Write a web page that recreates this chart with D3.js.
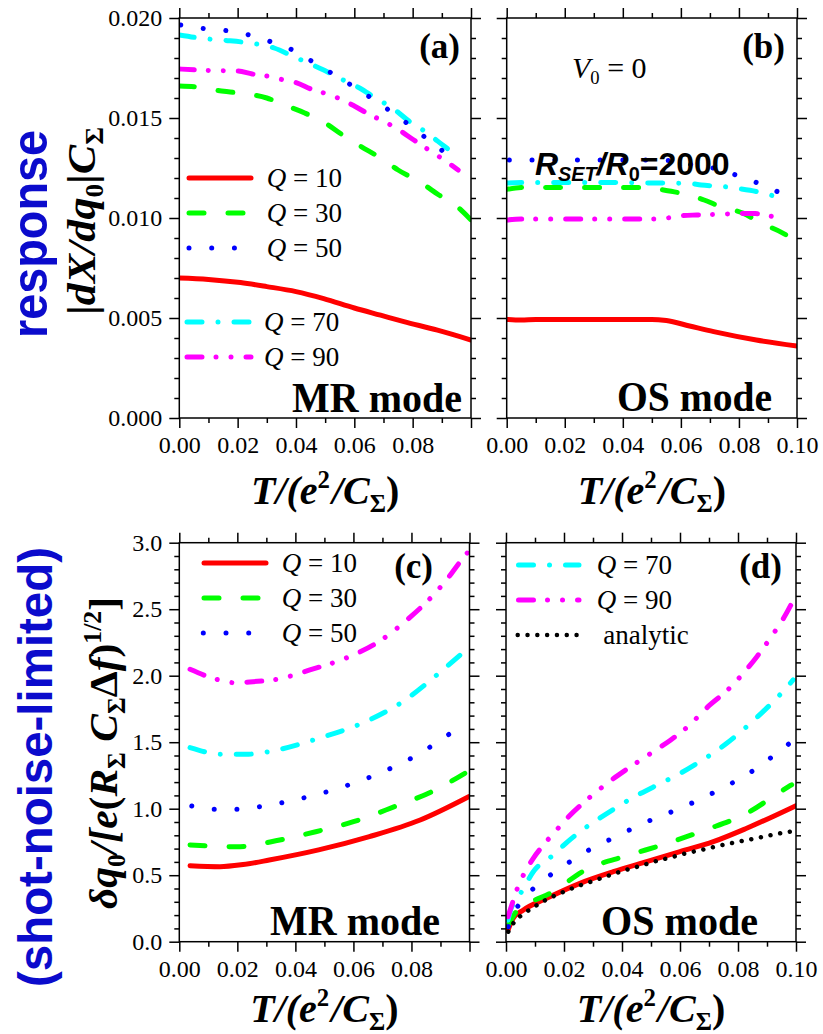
<!DOCTYPE html>
<html>
<head>
<meta charset="utf-8">
<script src="https://cdn.jsdelivr.net/npm/d3@7"></script>
<style>
  body { margin: 0; background: #fff; }
  svg { display: block; }
</style>
</head>
<body>
<svg id="fig" width="823" height="1034"></svg>
<script>
// ---------- data: [T/(e^2/C_Sigma), value] ----------
// (a) MR mode response |dX/dq0| C_Sigma
const aQ10 = [[0,0.0070],[0.010,0.00693],[0.021,0.00677],[0.030,0.00657],[0.040,0.00632],[0.0495,0.00597],[0.060,0.0055],[0.069,0.00514],[0.077,0.00482],[0.0885,0.00439],[0.100,0.0039]];
const aQ30 = [[0,0.0166],[0.006,0.01655],[0.012,0.0164],[0.020,0.01625],[0.030,0.0160],[0.036,0.01565],[0.043,0.01525],[0.050,0.01475],[0.056,0.01415],[0.062,0.0136],[0.069,0.0130],[0.075,0.0124],[0.083,0.01175],[0.089,0.01115],[0.095,0.0106],[0.100,0.0099]];
const aQ50 = [[0.0005,0.01965],[0.008,0.01948],[0.016,0.01937],[0.024,0.01915],[0.032,0.01878],[0.040,0.01832],[0.047,0.0177],[0.055,0.0170],[0.063,0.01627],[0.071,0.01548],[0.0786,0.01468],[0.0865,0.01378],[0.0943,0.0129]];
const aQ70 = [[0,0.01915],[0.008,0.01898],[0.016,0.01888],[0.023,0.01877],[0.0325,0.0185],[0.0395,0.01805],[0.0495,0.0174],[0.0575,0.0168],[0.0618,0.0165],[0.0667,0.01605],[0.074,0.0154],[0.0785,0.01487],[0.0835,0.0144],[0.091,0.01357],[0.0955,0.01307]];
const aQ90 = [[0,0.01745],[0.010,0.01738],[0.020,0.01735],[0.025,0.0172],[0.030,0.0171],[0.035,0.01693],[0.040,0.01677],[0.0455,0.01643],[0.050,0.01623],[0.0555,0.01593],[0.060,0.0156],[0.0655,0.01515],[0.0703,0.01482],[0.0756,0.01437],[0.0804,0.0139],[0.0856,0.0134],[0.0905,0.01293],[0.0956,0.0124]];

// (b) OS mode response
const bQ10 = [[0,0.00493],[0.005,0.0049],[0.010,0.00493],[0.030,0.00493],[0.050,0.00493],[0.055,0.00487],[0.063,0.0046],[0.0713,0.00432],[0.086,0.0039],[0.100,0.0036]];
const bQ30 = [[0,0.01143],[0.005,0.01152],[0.020,0.01153],[0.035,0.01153],[0.047,0.01153],[0.054,0.0114],[0.0603,0.01123],[0.068,0.0109],[0.0736,0.01057],[0.0816,0.01023],[0.0873,0.00977],[0.0948,0.00927],[0.100,0.00882]];
const bQ50 = [[0.0009,0.0129],[0.010,0.0129],[0.030,0.0129],[0.050,0.0129],[0.0552,0.01288],[0.063,0.01268],[0.071,0.0125],[0.079,0.01215],[0.0868,0.01173],[0.0946,0.01123]];
const bQ70 = [[0,0.01175],[0.010,0.01178],[0.030,0.01178],[0.050,0.01175],[0.0625,0.01173],[0.067,0.01165],[0.0747,0.01157],[0.0793,0.01148],[0.0862,0.01132],[0.0963,0.0109]];
const bQ90 = [[0,0.0099],[0.005,0.00995],[0.020,0.00995],[0.040,0.00995],[0.050,0.00995],[0.0554,0.0100],[0.0603,0.01012],[0.0655,0.01015],[0.0701,0.01017],[0.0755,0.0102],[0.0804,0.01023],[0.0856,0.01022],[0.0906,0.0101],[0.0956,0.01002]];

// (c) MR mode shot-noise-limited sensitivity
const cQ10 = [[0.0037,0.571],[0.014,0.564],[0.022,0.58],[0.031,0.614],[0.048,0.69],[0.0655,0.79],[0.083,0.915],[0.0997,1.09]];
const cQ30 = [[0.0037,0.727],[0.0197,0.714],[0.0346,0.765],[0.047,0.827],[0.060,0.902],[0.0735,1.01],[0.087,1.128],[0.0993,1.278]];
const cQ50 = [[0.0043,1.02],[0.012,0.995],[0.0197,0.995],[0.0275,1.015],[0.0354,1.045],[0.0432,1.083],[0.051,1.128],[0.0589,1.183],[0.0667,1.246],[0.0745,1.321],[0.0824,1.409],[0.090,1.516],[0.098,1.637]];
const cQ70 = [[0.0037,1.459],[0.015,1.409],[0.023,1.409],[0.0335,1.441],[0.048,1.529],[0.0655,1.667],[0.077,1.805],[0.088,1.992],[0.0994,2.206]];
const cQ90 = [[0.0037,2.048],[0.0137,1.968],[0.019,1.947],[0.0254,1.955],[0.0337,1.973],[0.045,2.043],[0.0586,2.143],[0.0678,2.243],[0.0787,2.424],[0.087,2.594],[0.0928,2.74],[0.0967,2.855],[0.0995,2.93]];

// (d) OS mode shot-noise-limited sensitivity
const dQ10 = [[0.0007,0.088],[0.0025,0.176],[0.006,0.238],[0.014,0.326],[0.0255,0.439],[0.037,0.526],[0.0485,0.602],[0.060,0.677],[0.0715,0.752],[0.083,0.853],[0.100,1.023]];
const dQ30 = [[0.0007,0.12],[0.003,0.21],[0.008,0.29],[0.0149,0.36],[0.0279,0.545],[0.0414,0.645],[0.0555,0.739],[0.0687,0.84],[0.0825,0.959],[0.0951,1.134],[0.0985,1.18]];
const dQ50 = [[0.0008,0.113],[0.002,0.188],[0.0048,0.289],[0.0123,0.451],[0.020,0.571],[0.028,0.682],[0.036,0.77],[0.0437,0.852],[0.0514,0.928],[0.0592,0.995],[0.0671,1.073],[0.0749,1.158],[0.0828,1.253],[0.0906,1.371],[0.0985,1.504]];
const dQ70 = [[0.0007,0.163],[0.002,0.263],[0.003,0.289],[0.006,0.401],[0.0094,0.526],[0.0163,0.652],[0.021,0.747],[0.0255,0.827],[0.0313,0.915],[0.0376,1.003],[0.0439,1.085],[0.0542,1.20],[0.060,1.265],[0.0658,1.34],[0.076,1.49],[0.083,1.617],[0.088,1.717],[0.0933,1.83],[0.099,1.968]];
const dQ90 = [[0.0007,0.188],[0.002,0.276],[0.0037,0.389],[0.006,0.501],[0.0094,0.627],[0.0129,0.727],[0.0169,0.827],[0.0218,0.945],[0.0278,1.065],[0.0364,1.216],[0.0416,1.296],[0.0508,1.429],[0.0568,1.517],[0.062,1.604],[0.0703,1.78],[0.0764,1.892],[0.0813,2.005],[0.0865,2.143],[0.0925,2.326],[0.0959,2.439],[0.100,2.607]];
const dAnalytic = [[0.0008,0.075],[0.0029,0.15],[0.0063,0.213],[0.0098,0.263],[0.0132,0.308],[0.0166,0.344],[0.020,0.376],[0.0234,0.406],[0.0269,0.434],[0.0303,0.459],[0.037,0.509],[0.0405,0.534],[0.0474,0.577],[0.0506,0.599],[0.0574,0.637],[0.0606,0.657],[0.0672,0.689],[0.0707,0.707],[0.0775,0.74],[0.0809,0.755],[0.0878,0.785],[0.091,0.80],[0.0945,0.815],[0.0979,0.827]];

// ticks
const tMajor = [0, 0.02, 0.04, 0.06, 0.08, 0.10];
const tMinor = [0.01, 0.03, 0.05, 0.07, 0.09];
const respMajor = [0, 0.005, 0.010, 0.015, 0.020];
const respMinor = [1,2,3,4,6,7,8,9,11,12,13,14,16,17,18,19].map(i => i / 1000);
const noiseMajor = [0, 0.5, 1.0, 1.5, 2.0, 2.5, 3.0];
const noiseMinor = d3.range(31).filter(i => i % 5 !== 0).map(i => i / 10);

// ---------- styling ----------
const serif = "'Liberation Serif', 'Times New Roman', Times, serif";
const sans = "'Liberation Sans', Arial, Helvetica, sans-serif";
const LW = 5;
const styles = {
  Q10: { color: "#ff0000", dash: null },
  Q30: { color: "#00ff00", dash: "15,24" },
  Q50: { color: "#0000ff", dash: "0.01,22.7" },
  Q70: { color: "#00ffff", dash: "15,16,0.01,16" },
  Q90: { color: "#ff00ff", dash: "15,14,0.01,15,0.01,15" },
  analytic: { color: "#000000", dash: "0.01,9.8", width: 4.5 }
};

const svg = d3.select("#fig");

// rich text helper: segments with italic / sup / sub
function rich(textSel, segs, size) {
  let shift = 0;
  segs.forEach(s => {
    const target = s.sup ? -0.4 * size : s.sub ? 0.2 * size : 0;
    const ts = textSel.append("tspan")
      .text(s.t)
      .style("font-size", ((s.sup || s.sub) ? size * 0.62 : size) + "px")
      .style("font-style", s.it ? "italic" : "normal");
    if (target - shift !== 0) ts.attr("dy", target - shift);
    if (s.dx) ts.attr("dx", s.dx);
    shift = target;
  });
}

const panels = [
  { id: "a", x0: 179.3, x1: 471, y0: 18, y1: 418, ydom: [0, 0.02], yMajor: respMajor, yMinor: respMinor,
    yFmt: d3.format(".3f"), yLabels: true, xLast: false, titleOff: 86,
    series: [["Q10", aQ10], ["Q30", aQ30], ["Q70", aQ70], ["Q90", aQ90], ["Q50", aQ50]] },
  { id: "b", x0: 506.7, x1: 797, y0: 18, y1: 418, ydom: [0, 0.02], yMajor: respMajor, yMinor: respMinor,
    yFmt: null, yLabels: false, xLast: true, titleOff: 86,
    series: [["Q10", bQ10], ["Q30", bQ30], ["Q70", bQ70], ["Q90", bQ90], ["Q50", bQ50]] },
  { id: "c", x0: 179.3, x1: 469.5, y0: 542.7, y1: 941.7, ydom: [0, 3], yMajor: noiseMajor, yMinor: noiseMinor,
    yFmt: d3.format(".1f"), yLabels: true, xLast: false, titleOff: 80,
    series: [["Q10", cQ10], ["Q30", cQ30], ["Q70", cQ70], ["Q90", cQ90], ["Q50", cQ50]] },
  { id: "d", x0: 506, x1: 796, y0: 542.7, y1: 941.7, ydom: [0, 3], yMajor: noiseMajor, yMinor: noiseMinor,
    yFmt: null, yLabels: false, xLast: true, titleOff: 80,
    series: [["Q10", dQ10], ["Q30", dQ30], ["Q70", dQ70], ["Q90", dQ90], ["Q50", dQ50], ["analytic", dAnalytic]] }
];

function styleAxis(g) {
  g.select(".domain").remove();
  g.selectAll(".tick line").attr("stroke", "#000").attr("stroke-width", 1.5);
  g.selectAll(".tick text").attr("fill", "#000")
    .style("font-family", serif).style("font-size", "24px");
  g.attr("font-family", null).attr("font-size", null);
}

panels.forEach(p => {
  const x = d3.scaleLinear().domain([0, 0.1]).range([p.x0, p.x1]);
  const y = d3.scaleLinear().domain(p.ydom).range([p.y1, p.y0]);
  const g = svg.append("g").attr("class", "panel-" + p.id);

  // clip region for curves
  const clipId = "clip-" + p.id;
  svg.append("clipPath").attr("id", clipId)
    .append("rect").attr("x", p.x0).attr("y", p.y0 - 3)
    .attr("width", p.x1 - p.x0).attr("height", p.y1 - p.y0 + 3);

  const line = d3.line().x(d => x(d[0])).y(d => y(d[1])).curve(d3.curveMonotoneX);
  const curves = g.append("g").attr("clip-path", `url(#${clipId})`);
  p.series.forEach(([key, data]) => {
    const st = styles[key];
    curves.append("path")
      .datum(data)
      .attr("d", line)
      .attr("fill", "none")
      .attr("stroke", st.color)
      .attr("stroke-width", st.width || LW)
      .attr("stroke-linecap", "round")
      .attr("stroke-linejoin", "round")
      .attr("stroke-dasharray", st.dash);
  });

  // bottom axis
  const xFmt = d3.format(".2f");
  g.append("g").attr("transform", `translate(0,${p.y1})`)
    .call(d3.axisBottom(x).tickValues(tMinor).tickSize(5).tickFormat("")).call(styleAxis);
  g.append("g").attr("transform", `translate(0,${p.y1})`)
    .call(d3.axisBottom(x).tickValues(tMajor).tickSize(10).tickPadding(8)
      .tickFormat(d => (d > 0.09 && !p.xLast) ? "" : xFmt(d))).call(styleAxis);
  // top axis
  g.append("g").attr("transform", `translate(0,${p.y0})`)
    .call(d3.axisTop(x).tickValues(tMinor).tickSize(5).tickFormat("")).call(styleAxis);
  g.append("g").attr("transform", `translate(0,${p.y0})`)
    .call(d3.axisTop(x).tickValues(tMajor).tickSize(10).tickFormat("")).call(styleAxis);
  // left axis
  g.append("g").attr("transform", `translate(${p.x0},0)`)
    .call(d3.axisLeft(y).tickValues(p.yMinor).tickSize(5).tickFormat("")).call(styleAxis);
  g.append("g").attr("transform", `translate(${p.x0},0)`)
    .call(d3.axisLeft(y).tickValues(p.yMajor).tickSize(10).tickPadding(7)
      .tickFormat(p.yLabels ? p.yFmt : "")).call(styleAxis);
  // right axis
  g.append("g").attr("transform", `translate(${p.x1},0)`)
    .call(d3.axisRight(y).tickValues(p.yMinor).tickSize(5).tickFormat("")).call(styleAxis);
  g.append("g").attr("transform", `translate(${p.x1},0)`)
    .call(d3.axisRight(y).tickValues(p.yMajor).tickSize(10).tickFormat("")).call(styleAxis);

  // frame
  g.append("rect").attr("x", p.x0).attr("y", p.y0)
    .attr("width", p.x1 - p.x0).attr("height", p.y1 - p.y0)
    .attr("fill", "none").attr("stroke", "#000").attr("stroke-width", 1.5);

  // x-axis title T/(e^2/C_Sigma)
  const tt = g.append("text")
    .attr("x", (p.x0 + p.x1) / 2).attr("y", p.y1 + p.titleOff)
    .attr("text-anchor", "middle").style("font-family", serif).style("font-weight", "bold");
  rich(tt, [{ t: "T", it: true }, { t: "/(", it: true }, { t: "e", it: true }, { t: "2", sup: true },
            { t: "/", it: true, dx: 2 }, { t: "C", it: true }, { t: "Σ", sub: true }, { t: ")" }], 40);
});

// ---------- panel annotations ----------
function label(txt, xPos, yPos, size, len) {
  const t = svg.append("text").attr("x", xPos).attr("y", yPos)
    .attr("text-anchor", "end").style("font-family", serif).style("font-weight", "bold")
    .style("font-size", size + "px").text(txt);
  if (len) t.attr("textLength", len).attr("lengthAdjust", "spacingAndGlyphs");
  return t;
}
label("(a)", 460, 58, 35);
label("(b)", 785, 58, 35);
label("(c)", 433, 578, 35);
label("(d)", 782, 578, 35);
label("MR mode", 462, 412, 42, 170);
label("OS mode", 772, 411, 42, 155);
label("MR mode", 440, 935, 42, 170);
label("OS mode", 758, 935, 42, 157);

// V0 = 0
const v0 = svg.append("text").attr("x", 572).attr("y", 78)
  .style("font-family", serif).attr("fill", "#000");
rich(v0, [{ t: "V", it: true }, { t: "0", sub: true }, { t: " = 0" }], 30);

// R_SET / R_0 = 2000
const rs = svg.append("text").attr("x", 535).attr("y", 175)
  .style("font-family", sans).style("font-weight", "bold").attr("fill", "#000");
rich(rs, [{ t: "R", it: true }, { t: "SET", sub: true, it: true }, { t: "/", it: true }, { t: "R", it: true },
          { t: "0", sub: true }, { t: "=2000" }], 32);

// ---------- legends ----------
function legendRow(key, x1, x2, yRow, textX, segs) {
  const st = styles[key];
  svg.append("line").attr("x1", x1).attr("x2", x2).attr("y1", yRow).attr("y2", yRow)
    .attr("stroke", st.color).attr("stroke-width", st.width || LW)
    .attr("stroke-linecap", "round").attr("stroke-dasharray", st.dash);
  const t = svg.append("text").attr("x", textX).attr("y", yRow + 9)
    .style("font-family", serif).attr("fill", "#000");
  rich(t, segs, 27);
}
const qText = n => [{ t: "Q", it: true }, { t: " = " + n }];
// (a)
legendRow("Q10", 189, 251, 178, 266.7, qText(10));
legendRow("Q30", 189, 251, 213, 266.7, qText(30));
legendRow("Q50", 189, 251, 248, 266.7, qText(50));
legendRow("Q70", 187, 251, 322, 264, qText(70));
legendRow("Q90", 187, 251, 357, 264, qText(90));
// (c)
legendRow("Q10", 204, 266, 563, 281.7, qText(10));
legendRow("Q30", 204, 266, 598, 281.7, qText(30));
legendRow("Q50", 203.3, 266, 633, 281.7, qText(50));
// (d)
legendRow("Q70", 518.5, 579, 565, 596.7, qText(70));
legendRow("Q90", 518.5, 579, 600, 596.7, qText(90));
legendRow("analytic", 517.7, 577, 635, 603.3, [{ t: "analytic" }]);

// ---------- y-axis titles ----------
const yt1 = svg.append("text")
  .attr("transform", "translate(95,221) rotate(-90)")
  .attr("text-anchor", "middle").style("font-family", serif).style("font-weight", "bold")
  .attr("textLength", 188).attr("lengthAdjust", "spacingAndGlyphs");
rich(yt1, [{ t: "|", it: false }, { t: "dX", it: true }, { t: "/", it: true }, { t: "dq", it: true },
           { t: "0", sub: true }, { t: "|", it: false }, { t: "C", it: true }, { t: "Σ", sub: true }], 40);

const yt2 = svg.append("text")
  .attr("transform", "translate(117,753) rotate(-90)")
  .attr("text-anchor", "middle").style("font-family", serif).style("font-weight", "bold")
  .attr("textLength", 312).attr("lengthAdjust", "spacingAndGlyphs");
rich(yt2, [{ t: "δq", it: true }, { t: "0", sub: true }, { t: "/[", it: true }, { t: "e", it: true },
           { t: "(" }, { t: "R", it: true }, { t: "Σ", sub: true }, { t: " C", it: true }, { t: "Σ", sub: true },
           { t: "Δ" }, { t: "f", it: true }, { t: ")" }, { t: "1/2", sup: true }, { t: "]" }], 40);

// ---------- blue row captions ----------
svg.append("text")
  .attr("transform", "translate(47,234) rotate(-90)")
  .attr("text-anchor", "middle").style("font-family", sans).style("font-weight", "bold")
  .style("font-size", "50px").attr("fill", "#0b0bcc")
  .attr("textLength", 208).attr("lengthAdjust", "spacingAndGlyphs")
  .text("response");
svg.append("text")
  .attr("transform", "translate(52,767) rotate(-90)")
  .attr("text-anchor", "middle").style("font-family", sans).style("font-weight", "bold")
  .style("font-size", "48px").attr("fill", "#0b0bcc")
  .attr("textLength", 440).attr("lengthAdjust", "spacingAndGlyphs")
  .text("(shot-noise-limited)");
</script>
</body>
</html>
